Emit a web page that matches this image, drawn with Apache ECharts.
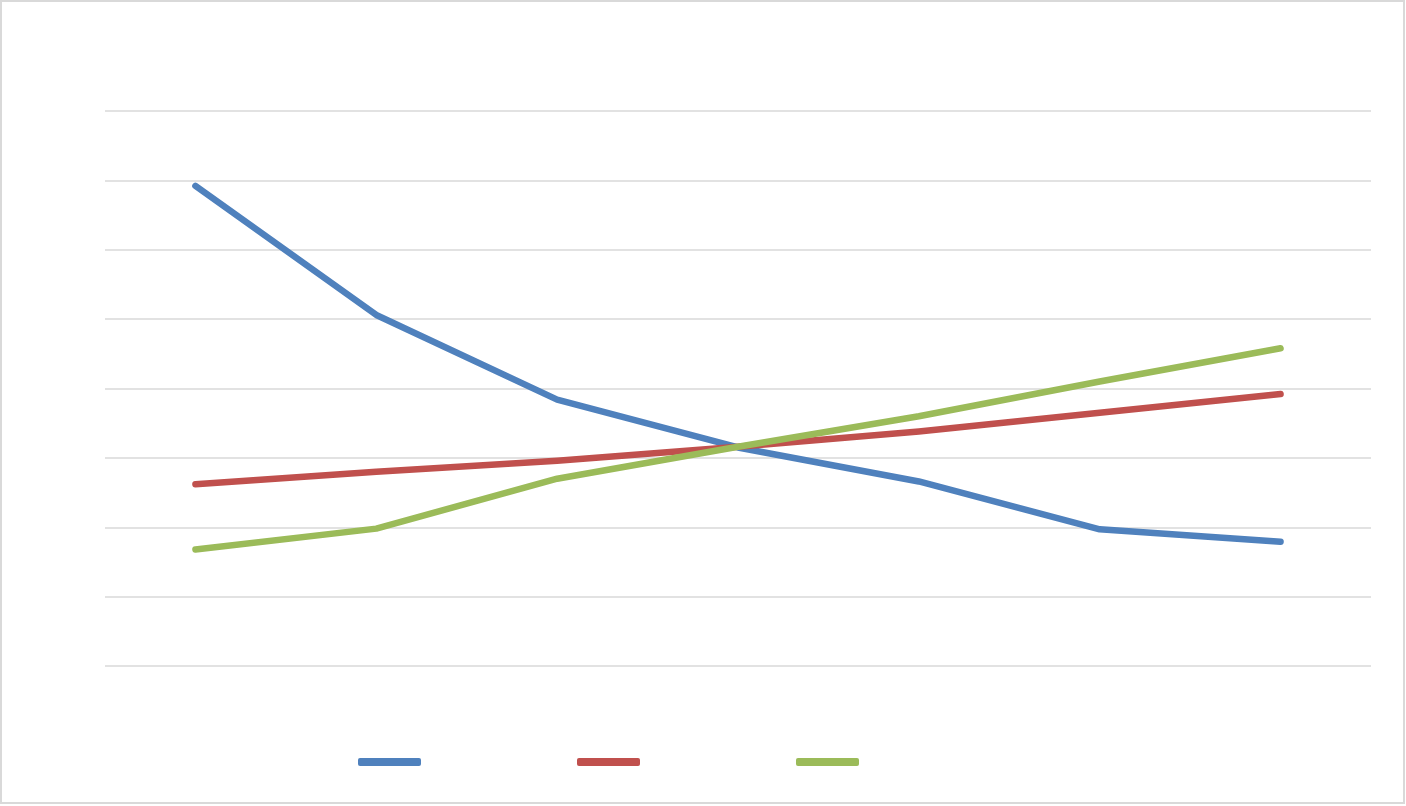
<!DOCTYPE html>
<html>
<head>
<meta charset="utf-8">
<script src="https://cdn.jsdelivr.net/npm/echarts@6/dist/echarts.min.js"></script>
<style>
  html, body { margin: 0; padding: 0; background: #fff; }
  #chart { position: absolute; left: 0; top: 0; width: 1406px; height: 806px; }
  #frame { position: absolute; left: 0; top: 0; width: 1405px; height: 804px; box-sizing: border-box;
           border: 2px solid #d9d9d9; pointer-events: none; }
</style>
</head>
<body>
<div id="chart"></div>
<div id="frame"></div>
<script>
// categories (no labels shown in the original)
const categories = ['1', '2', '3', '4', '5', '6', '7'];
const seriesNames = ['Series 1', 'Series 2', 'Series 3'];
// values, axis 0..80
const blueVals = [69.2, 50.6, 38.4, 31.5, 26.6, 19.7, 17.9];
const redVals = [26.2, 28.0, 29.6, 31.6, 33.8, 36.5, 39.2];
const greenVals = [16.8, 19.8, 27.0, 31.6, 36.0, 41.0, 45.8];
const colors = ['#4F81BD', '#C0504D', '#9BBB59'];

const chart = echarts.init(document.getElementById('chart'));

function lineSeries(name, data, color) {
    return {
        name: name,
        type: 'line',
        data: data,
        symbol: 'none',
        color: color,
        lineStyle: { width: 6.5, color: color, cap: 'round', join: 'round' },
        animation: false
    };
}

chart.setOption({
    animation: false,
    color: colors,
    grid: { left: 105, right: 35, top: 111, bottom: 140 },
    legend: {
        show: true,
        left: 353,
        top: 753,
        itemWidth: 63,
        itemHeight: 8,
        itemGap: 156,
        icon: 'roundRect',
        formatter: function () { return ''; },
        data: seriesNames
    },
    xAxis: {
        type: 'category',
        data: categories,
        boundaryGap: true,
        axisLine: { show: false },
        axisTick: { show: false },
        axisLabel: { show: false }
    },
    yAxis: {
        type: 'value',
        min: 0,
        max: 80,
        interval: 10,
        axisLine: { show: false },
        axisTick: { show: false },
        axisLabel: { show: false },
        splitLine: { lineStyle: { color: '#d9d9d9', width: 1.5 } }
    },
    series: [
        lineSeries(seriesNames[0], blueVals, colors[0]),
        lineSeries(seriesNames[1], redVals, colors[1]),
        lineSeries(seriesNames[2], greenVals, colors[2])
    ]
});
</script>
</body>
</html>
